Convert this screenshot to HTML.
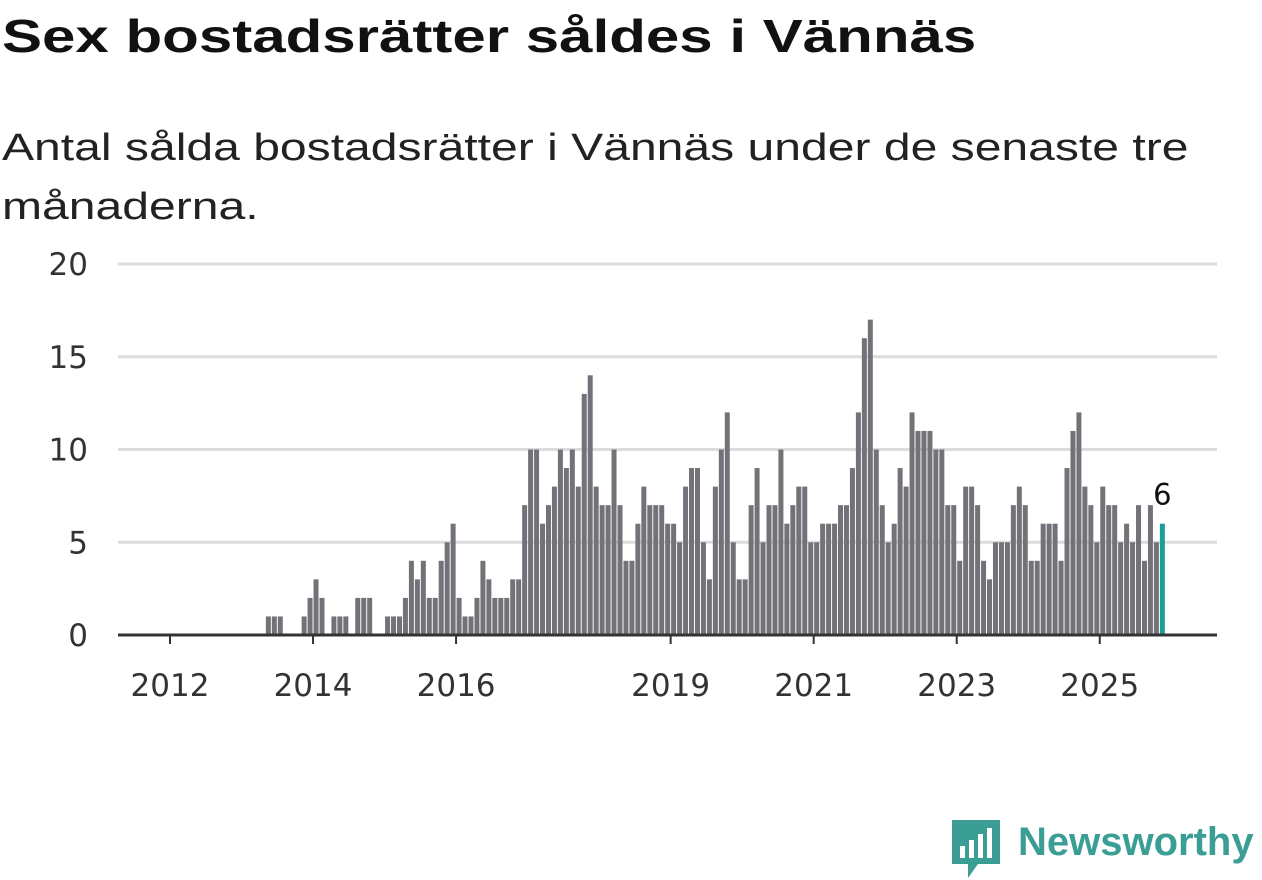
<!DOCTYPE html>
<html><head><meta charset="utf-8"><style>
body{margin:0;width:1262px;height:879px;background:#fff;overflow:hidden;font-family:"Liberation Sans",sans-serif;color:#111}
#title{position:absolute;left:2px;top:9px;font-size:46px;font-weight:bold;margin:0;white-space:nowrap;transform:scaleX(1.305);transform-origin:0 0}
#sub{position:absolute;left:2px;top:119px;font-size:38px;line-height:59px;color:#222;white-space:nowrap;transform:scaleX(1.265);transform-origin:0 0}
svg{position:absolute;left:0;top:0}
</style></head><body>
<h1 id="title">Sex bostadsrätter såldes i Vännäs</h1>
<div id="sub">Antal sålda bostadsrätter i Vännäs under de senaste tre<br>månaderna.</div>
<svg id="chart" width="1262" height="879"></svg>
<script>
const values=[0,0,0,0,0,0,0,0,0,0,0,0,0,0,0,0,
1,1,1,0,0,0,1,2,3,2,0,1,1,1,0,2,2,2,0,0,1,1,1,2,4,3,4,2,2,4,5,6,2,1,1,2,4,3,2,2,2,3,3,7,10,10,6,7,8,10,9,10,8,13,14,8,7,7,10,7,4,4,6,8,7,7,7,6,6,5,8,9,9,5,3,8,10,12,5,3,3,7,9,5,7,7,10,6,7,8,8,5,5,6,6,6,7,7,9,12,16,17,10,7,5,6,9,8,12,11,11,11,10,10,7,7,4,8,8,7,4,3,5,5,5,7,8,7,4,4,6,6,6,4,9,11,12,8,7,5,8,7,7,5,6,5,7,4,7,5,6];
const yTicks=[0,5,10,15,20];
const xYears=[2012,2014,2016,2019,2021,2023,2025];
const NS='http://www.w3.org/2000/svg';
const svg=document.getElementById('chart');
const L=118,R=1217,Y0=635,Y20=264,X0=170,MW=5.96;
const FF='DejaVu Sans';
const y=v=>Y0-(Y0-Y20)*v/20;
const x=i=>X0+i*MW;
function mk(t,a){const e=document.createElementNS(NS,t);for(const k in a)e.setAttribute(k,a[k]);svg.appendChild(e);return e;}
yTicks.forEach(v=>{
  if(v>0){const g=mk('line',{x1:L,x2:R,y1:y(v),y2:y(v),stroke:'#dcdcdc','stroke-width':3});
  
  }
  const t=mk('text',{x:88,y:y(v)+11,'text-anchor':'end','font-size':31,fill:'#333','font-family':FF});
  t.textContent=v;
  
  
});
values.forEach((v,i)=>{
  if(v<=0)return;
  const last=i===values.length-1;
  const r=mk('rect',{x:x(i)+0.5,y:y(v),width:5,height:Y0-y(v),fill:last?'#1a9e96':'#737278'});
  
  
  if(last){const t=mk('text',{x:x(i)+3,y:y(v)-19,'text-anchor':'middle','font-size':29,fill:'#111','font-family':FF});
  t.textContent=v;
  
  }
});
const ax=mk('line',{x1:L,x2:R,y1:Y0,y2:Y0,stroke:'#333','stroke-width':3});


xYears.forEach(yr=>{
  const px=x((yr-2012)*12);
  const tk=mk('line',{x1:px,x2:px,y1:Y0,y2:Y0+9,stroke:'#333','stroke-width':2});
  
  
  const t=mk('text',{x:px,y:Y0+61,'text-anchor':'middle','font-size':31,fill:'#333','font-family':FF});
  t.textContent=yr;
  
  
});
</script>
<div style="position:absolute;left:952px;top:818px;">
<svg width="50" height="60" style="position:absolute;left:0;top:2px">
<path d="M0 0H48V44H26L16 58V44H0Z" fill="#3a9e94"/>
<rect x="8" y="26" width="5" height="12" fill="#fff"/><rect x="17" y="20" width="5" height="18" fill="#fff"/><rect x="26" y="14" width="5" height="24" fill="#fff"/><rect x="35" y="8" width="5" height="30" fill="#fff"/>
</svg>
<div style="position:absolute;left:66px;top:2px;font-size:40px;font-weight:bold;color:#3a9e94;white-space:nowrap">Newsworthy</div>
</div>
</body></html>
